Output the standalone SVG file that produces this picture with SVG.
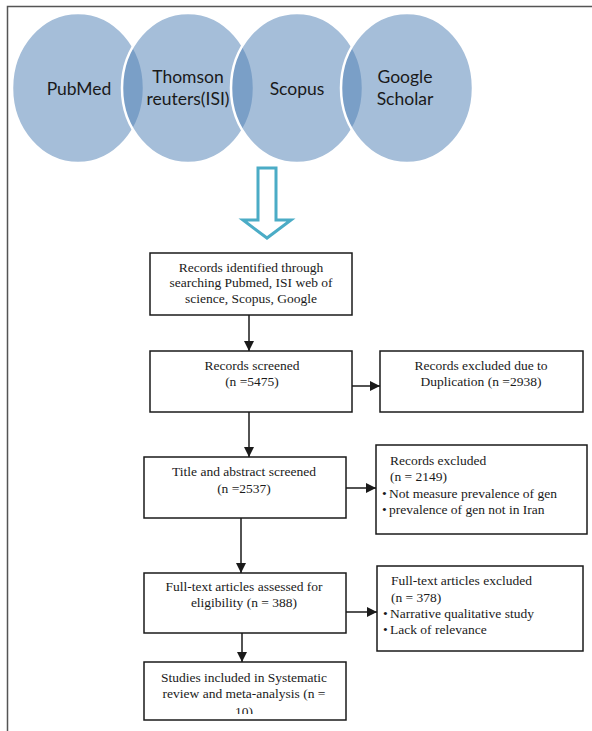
<svg xmlns="http://www.w3.org/2000/svg" width="592" height="731" viewBox="0 0 592 731">
<style>
.frame{stroke:#555;stroke-width:1.5;fill:none}
.venn{fill:#5383B7;fill-opacity:0.52;stroke:#fff;stroke-width:2.5}
.vt{font-family:Lato,"Open Sans",sans-serif;font-size:17.5px;fill:#1a1a1a;text-anchor:middle}
.box{fill:#fff;stroke:#1a1a1a;stroke-width:1.5}
.t{font-family:"Liberation Serif","Times New Roman",serif;font-size:13.5px;fill:#1a1a1a}
.c{text-anchor:middle}
.conn{stroke:#1a1a1a;stroke-width:1.5;fill:none;marker-end:url(#ah)}
</style>
<defs>
<marker id="ah" viewBox="0 0 10 10" refX="10" refY="5" markerWidth="10" markerHeight="10" markerUnits="userSpaceOnUse" orient="auto">
<path d="M0,0 L10,5 L0,10 z" fill="#1a1a1a"/>
</marker>
<clipPath id="clip8"><rect x="145" y="663" width="200" height="51"/></clipPath>
</defs>
<rect width="592" height="731" fill="#fff"/>
<path class="frame" d="M7.5,731 V6.5 H592"/>
<g id="venn">
<g id="pubmed"><ellipse class="venn" cx="78" cy="88" rx="66" ry="75"/></g>
<g id="thomson"><ellipse class="venn" cx="188" cy="88" rx="66" ry="75"/></g>
<g id="scopus"><ellipse class="venn" cx="297" cy="88" rx="66" ry="75"/></g>
<g id="google"><ellipse class="venn" cx="407" cy="88" rx="66" ry="75"/></g>
<text class="vt" x="79" y="95">PubMed</text>
<text class="vt" x="188" y="83">Thomson</text>
<text class="vt" x="188" y="105">reuters(ISI)</text>
<text class="vt" x="297" y="95">Scopus</text>
<text class="vt" x="405" y="83">Google</text>
<text class="vt" x="405" y="105">Scholar</text>
</g>
<g id="bigarrow">
<polygon points="258,168 276,168 276,220 291,220 267,238 243,220 258,220" fill="#fff" stroke="#4BACC6" stroke-width="3" stroke-linejoin="miter"/>
</g>
<g id="connectors">
<line class="conn" x1="249" y1="315" x2="249" y2="351"/>
<line class="conn" x1="352" y1="386" x2="380" y2="386"/>
<line class="conn" x1="249" y1="412" x2="249" y2="457"/>
<line class="conn" x1="346" y1="488" x2="376" y2="488"/>
<line class="conn" x1="241" y1="518" x2="241" y2="573"/>
<line class="conn" x1="346" y1="612" x2="377" y2="612"/>
<line class="conn" x1="242" y1="633" x2="242" y2="662"/>
</g>
<g id="identified">
<rect class="box" x="150" y="253" width="202" height="62"/>
<text class="t c" x="251" y="272">Records identified through</text>
<text class="t c" x="251" y="287">searching Pubmed, ISI web of</text>
<text class="t c" x="251" y="303">science, Scopus, Google</text>
</g>
<g id="screened">
<rect class="box" x="150" y="351" width="202" height="61"/>
<text class="t c" x="252" y="370">Records screened</text>
<text class="t c" x="252" y="386">(n =5475)</text>
</g>
<g id="duplication">
<rect class="box" x="380" y="351" width="203" height="61"/>
<text class="t c" x="481" y="370">Records excluded due to</text>
<text class="t c" x="481" y="386">Duplication (n =2938)</text>
</g>
<g id="titleabstract">
<rect class="box" x="144" y="457" width="202" height="61"/>
<text class="t c" x="244" y="476">Title and abstract screened</text>
<text class="t c" x="244" y="493">(n =2537)</text>
</g>
<g id="excluded1">
<rect class="box" x="376" y="445" width="211" height="89"/>
<text class="t" x="390" y="465">Records excluded</text>
<text class="t" x="390" y="481">(n = 2149)</text>
<text class="t" x="382" y="498">•</text><text class="t" x="389" y="498">Not measure prevalence  of gen</text>
<text class="t" x="382" y="514">•</text><text class="t" x="389" y="514">prevalence  of gen not in Iran</text>
</g>
<g id="fulltext">
<rect class="box" x="144" y="573" width="202" height="60"/>
<text class="t c" x="244" y="591">Full-text articles assessed for</text>
<text class="t c" x="244" y="607">eligibility (n = 388)</text>
</g>
<g id="excluded2">
<rect class="box" x="377" y="566" width="206" height="85"/>
<text class="t" x="391" y="585">Full-text articles excluded</text>
<text class="t" x="391" y="602">(n = 378)</text>
<text class="t" x="383" y="618">•</text><text class="t" x="390" y="618">Narrative qualitative study</text>
<text class="t" x="383" y="634">•</text><text class="t" x="390" y="634">Lack of relevance</text>
</g>
<g id="included">
<rect class="box" x="144" y="662" width="202" height="58"/>
<text class="t c" x="244" y="682">Studies included in Systematic</text>
<text class="t c" x="244" y="698">review and meta-analysis (n =</text>
<text class="t c" x="244" y="716" clip-path="url(#clip8)">10)</text>
</g>
</svg>
